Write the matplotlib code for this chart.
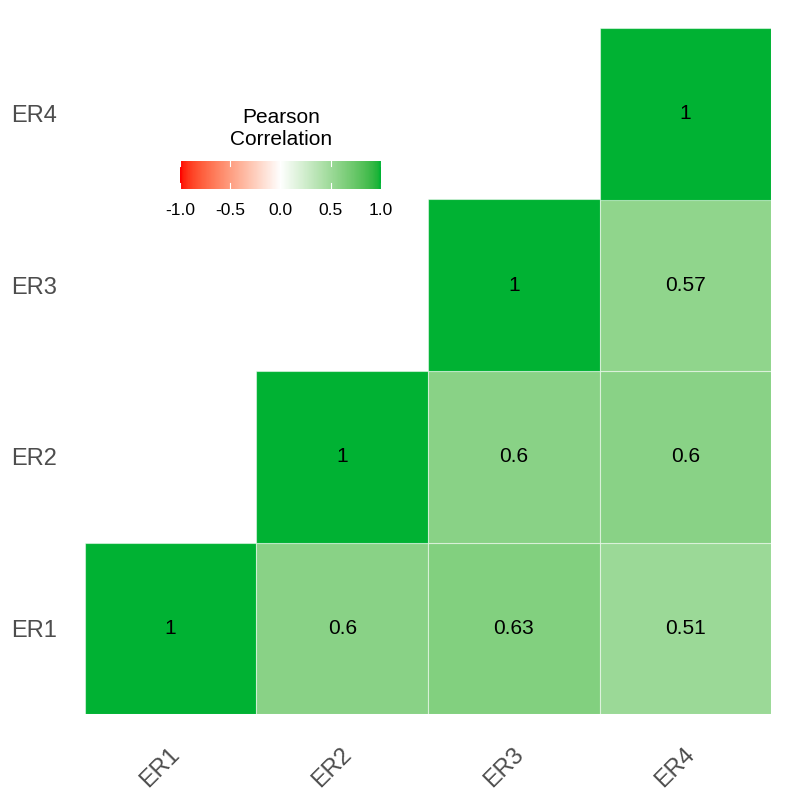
import numpy as np
import matplotlib
matplotlib.use("Agg")
import matplotlib.pyplot as plt
import matplotlib.transforms as mtransforms
from matplotlib.colors import ListedColormap, Normalize

plt.rcParams['font.family'] = ['Liberation Sans', 'DejaVu Sans']

labels = ["ER1", "ER2", "ER3", "ER4"]
# upper-triangle correlations: (x label, y label, value)
pair_x = ["ER1", "ER2", "ER3", "ER4", "ER2", "ER3", "ER4", "ER3", "ER4", "ER4"]
pair_y = ["ER1", "ER1", "ER1", "ER1", "ER2", "ER2", "ER2", "ER3", "ER3", "ER4"]
values = [1, 0.6, 0.63, 0.51, 1, 0.6, 0.6, 1, 0.57, 1]
legend_ticks = [-1.0, -0.5, 0.0, 0.5, 1.0]

low_col = (255, 0, 0)
mid_col = (255, 255, 255)
high_col = (0, 178, 51)

M = np.array([[0.4124, 0.3576, 0.1805],
              [0.2126, 0.7152, 0.0722],
              [0.0193, 0.1192, 0.9505]])
WP = np.array([0.95047, 1.0, 1.08883])

# Lab interpolation (as in ggplot2 scales)
def srgb_to_lab(c):
    c = np.asarray(c, float) / 255.0
    lin = np.where(c <= 0.04045, c / 12.92, ((c + 0.055) / 1.055) ** 2.4)
    t = (M @ lin) / WP
    f = np.where(t > (6/29)**3, np.cbrt(t), t / (3*(6/29)**2) + 4/29)
    return np.array([116*f[1] - 16, 500*(f[0]-f[1]), 200*(f[1]-f[2])])

def lab_to_srgb(lab):
    L, a, b = lab
    fy = (L + 16) / 116
    fx = fy + a / 500
    fz = fy - b / 200
    def finv(f):
        return np.where(f > 6/29, f**3, 3*(6/29)**2*(f - 4/29))
    xyz = np.array([finv(fx), finv(fy), finv(fz)]) * WP
    lin = np.clip(np.linalg.inv(M) @ xyz, 0, 1)
    c = np.where(lin <= 0.0031308, 12.92*lin, 1.055*lin**(1/2.4) - 0.055)
    return np.clip(c, 0, 1)

N = 256
lab_low, lab_mid, lab_high = srgb_to_lab(low_col), srgb_to_lab(mid_col), srgb_to_lab(high_col)
cols = []
for v in np.linspace(-1, 1, N):
    if v < 0:
        lab = lab_low + (lab_mid - lab_low) * (v + 1)
    else:
        lab = lab_mid + (lab_high - lab_mid) * v
    cols.append(lab_to_srgb(lab))
cmap = ListedColormap(cols)
norm = Normalize(-1, 1)

fig = plt.figure(figsize=(8, 8), dpi=100)
ax = fig.add_axes([0.106, 0.1075, 0.858, 0.8575])

for xl, yl, v in zip(pair_x, pair_y, values):
    xi = labels.index(xl)
    yi = labels.index(yl)
    ax.add_patch(plt.Rectangle((xi - 0.5, yi - 0.5), 1, 1, facecolor=cmap(norm(v)),
                               edgecolor=(1, 1, 1, 0.5), linewidth=0.8))
    ax.text(xi, yi, f"{v:g}", ha='center', va='center', fontsize=15, color='black')

ax.set_xlim(-0.5, 3.5)
ax.set_ylim(-0.5, 3.5)
ax.set_xticks(range(4))
ax.set_xticklabels(labels, rotation=45, ha='center', va='top')
ax.set_yticks(range(4))
ax.set_yticklabels(labels)
ax.tick_params(length=0, labelsize=17, labelcolor='#4D4D4D')
ax.tick_params(axis='x', pad=21)
ax.tick_params(axis='y', pad=20)
offset = mtransforms.ScaledTranslation(-10/100, 0, fig.dpi_scale_trans)
for lab in ax.get_xticklabels():
    lab.set_transform(lab.get_transform() + offset)
for s in ax.spines.values():
    s.set_visible(False)

# legend colorbar
cax = fig.add_axes([0.225, 0.764, 0.251, 0.035])
grad = np.linspace(-1, 1, 300).reshape(1, -1)
cax.imshow(grad, cmap=cmap, norm=norm, aspect='auto', extent=[-1, 1, 0, 1])
for t in legend_ticks:
    cax.plot([t, t], [0, 0.2], color='white', lw=0.8)
    cax.plot([t, t], [0.8, 1], color='white', lw=0.8)
cax.set_xlim(-1, 1)
cax.set_ylim(0, 1)
cax.set_yticks([])
cax.set_xticks(legend_ticks)
cax.set_xticklabels([f"{t:.1f}" for t in legend_ticks])
cax.tick_params(length=0, labelsize=12.5, labelcolor='black', pad=10)
for s in cax.spines.values():
    s.set_visible(False)
fig.text(0.351, 0.8395, "Pearson\nCorrelation", ha='center', va='center', fontsize=15,
         linespacing=1.15)

fig.savefig("out.png", dpi=100, facecolor='white')
